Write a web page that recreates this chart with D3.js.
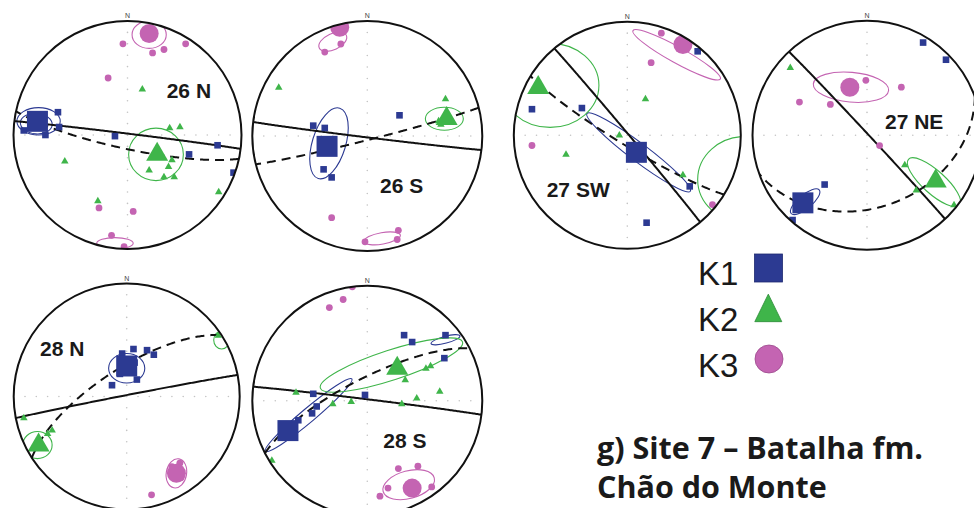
<!DOCTYPE html>
<html><head><meta charset="utf-8">
<script src="https://cdn.jsdelivr.net/npm/d3@7"></script>
<style>body{margin:0;background:#fff;overflow:hidden}</style>
</head><body><svg id="c" width="974" height="508"></svg>
<script>
// ---------- DATA (equal-area lower-hemisphere projected coords, unit radius; x = east, y = north) ----------
const siteLabels = ["26 N", "26 S", "27 SW", "27 NE", "28 N", "28 S"];
const legendLabels = ["K1", "K2", "K3"];
const titleLines = ["g) Site 7 \u2013 Batalha fm.", "Ch\u00e3o do Monte"];

const k1Means = [[-0.79, 0.12], [-0.35, -0.09], [0.08, -0.15], [-0.56, -0.59], [0.0, 0.27], [-0.69, -0.26]];
const k2Means = [[0.26, -0.17], [0.69, 0.15], [-0.785, 0.42], [0.60, -0.40], [-0.78, -0.43], [0.26, 0.28]];
const k3Means = [[0.19, 0.89], [-0.24, 0.945], [0.49, 0.80], [-0.15, 0.42], [0.44, -0.68], [0.39, -0.76]];

const k1Specimens = [
  [[-0.61, 0.20], [-0.91, 0.04], [-0.60, 0.07], [-0.72, 0.0], [-0.11, -0.01], [0.54, -0.17], [0.79, -0.09], [0.93, -0.33]],
  [[-0.47, 0.09], [-0.37, 0.07], [-0.38, -0.29], [-0.31, -0.36], [0.28, 0.18]],
  [[-0.84, 0.23], [-0.40, 0.24], [0.62, 0.74], [0.55, -0.45], [0.17, -0.77]],
  [[-0.37, -0.43], [-0.65, -0.74], [0.49, 0.81], [0.69, 0.66]],
  [[0.06, 0.42], [0.18, 0.41], [0.24, 0.37], [-0.13, 0.10], [0.09, 0.15], [-0.04, 0.38], [0.07, 0.30], [-0.06, 0.20]],
  [[-0.47, 0.06], [-0.48, -0.11], [-0.44, -0.05], [-0.02, 0.05], [0.32, 0.57], [0.39, 0.51], [0.68, 0.57], [0.67, 0.37], [-0.60, -0.17]]
];
const k2Specimens = [
  [[0.13, 0.40], [0.37, 0.06], [0.46, 0.07], [0.39, -0.22], [0.36, -0.28], [0.19, -0.31], [0.32, -0.37], [0.41, -0.37], [-0.55, -0.23], [0.80, -0.50], [-0.26, -0.58]],
  [[0.68, 0.32], [-0.77, 0.42], [0.64, 0.10], [0.73, 0.12], [0.62, 0.13]],
  [[0.16, 0.32], [-0.07, 0.0], [-0.54, -0.17], [0.49, -0.35]],
  [[-0.67, 0.59], [0.33, -0.26], [0.43, -0.48], [0.76, -0.61]],
  [[-0.91, -0.19], [-0.66, -0.30], [-0.70, -0.33], [0.81, 0.54]],
  [[-0.62, 0.07], [-0.30, -0.03], [-0.14, -0.01], [0.30, -0.03], [0.43, 0.02], [0.63, 0.08], [0.51, 0.28], [0.33, 0.18], [0.55, 0.30], [-0.83, -0.52]]
];
const k3Specimens = [
  [[-0.04, 0.80], [0.22, 0.72], [0.32, 0.75], [0.51, 0.80], [-0.17, 0.50], [-0.25, -0.64], [0.05, -0.67], [-0.14, -0.88], [-0.03, -0.98]],
  [[-0.37, 0.73], [-0.23, 0.80], [-0.31, -0.71], [0.27, -0.82], [0.26, -0.90], [-0.02, -0.92]],
  [[0.30, 0.90], [0.21, 0.64], [-0.84, -0.09], [0.75, -0.61]],
  [[-0.01, 0.48], [0.30, 0.42], [-0.59, 0.29], [-0.32, 0.27], [0.11, -0.09]],
  [[0.47, -0.59], [0.40, -0.62], [0.48, -0.72], [0.22, -0.87]],
  [[-0.13, 0.99], [-0.21, 0.88], [-0.33, 0.81], [0.27, -0.59], [0.44, -0.57], [0.11, -0.83], [0.18, -0.76], [0.56, -0.75]]
];

// confidence ellipses: [centre x, centre y, semi-axis x, semi-axis y, rotation deg]
const k1Ellipses = [
  [[-0.78, 0.12, 0.19, 0.12, 0], [-0.80, 0.10, 0.14, 0.09, 5]],
  [[-0.333, -0.064, 0.145, 0.32, 17]],
  [[0.10, -0.15, 0.57, 0.08, 37]],
  [[-0.54, -0.58, 0.16, 0.06, -40]],
  [[0.0, 0.25, 0.16, 0.13, 0]],
  [[-0.51, -0.125, 0.49, 0.06, -40], [0.68, 0.53, 0.13, 0.03, -15]]
];
const k2Ellipses = [
  [[0.25, -0.17, 0.24, 0.23, 0]],
  [[0.67, 0.15, 0.165, 0.10, 0]],
  [[-0.68, 0.44, 0.43, 0.37, 0], [1.04, -0.39, 0.42, 0.38, 0]],
  [[0.585, -0.41, 0.30, 0.10, 42]],
  [[-0.79, -0.43, 0.13, 0.12, 0], [0.84, 0.50, 0.07, 0.08, 0]],
  [[0.21, 0.31, 0.65, 0.13, -18]]
];
const k3Ellipses = [
  [[0.19, 0.88, 0.15, 0.12, 0], [-0.11, -0.95, 0.16, 0.05, 0]],
  [[-0.30, 0.82, 0.13, 0.07, -25], [0.13, -0.89, 0.16, 0.05, -10]],
  [[0.435, 0.709, 0.44, 0.07, 29], [-0.80, -0.82, 0.25, 0.06, 40]],
  [[-0.14, 0.42, 0.33, 0.13, 5]],
  [[0.44, -0.68, 0.09, 0.13, 10]],
  [[0.36, -0.73, 0.23, 0.12, -15]]
];

// bedding planes: [dip direction, dip] (degrees)
const beddingPlanes = [[7, 89], [187, 89], [50, 89], [47, 89], [349, 89], [7, 89]];

// ---------- LAYOUT ----------
const layout = [
  {cx: 127.5, cy: 135.0, r: 114.0, lx: 166.7, ly: 97.7},
  {cx: 367.3, cy: 136.0, r: 115.0, lx: 380.0, ly: 193.3},
  {cx: 627.3, cy: 135.3, r: 113.5, lx: 546.7, ly: 197.3},
  {cx: 867.0, cy: 135.3, r: 114.5, lx: 885.0, ly: 129.0},
  {cx: 126.7, cy: 396.5, r: 113.0, lx: 40.0, ly: 355.7},
  {cx: 367.3, cy: 400.7, r: 115.0, lx: 383.3, ly: 448.3}
];
const colK1 = "#2c3a92", colK2 = "#3fb54a", colK3 = "#c464b2";
const sansFont = "'Liberation Sans', Arial, sans-serif";

// ---------- MATH ----------
function toVec([x, y]) {
  const r = Math.hypot(x, y);
  if (r < 1e-9) return [0, 0, 1];
  const th = 2 * Math.asin(Math.min(1, r / Math.SQRT2));
  const s = Math.sin(th);
  return [s * x / r, s * y / r, Math.cos(th)];
}
function toProj([e, n, d]) {
  if (d < 0) { e = -e; n = -n; d = -d; }
  const h = Math.hypot(e, n);
  if (h < 1e-12) return [0, 0];
  const th = Math.acos(Math.min(1, d / Math.hypot(e, n, d)));
  const r = Math.SQRT2 * Math.sin(th / 2);
  return [r * e / h, r * n / h];
}
function poleFromPlane(dipDir, dip) {
  const tr = (dipDir + 180) * Math.PI / 180, pl = (90 - dip) * Math.PI / 180;
  return [Math.cos(pl) * Math.sin(tr), Math.cos(pl) * Math.cos(tr), Math.sin(pl)];
}
function greatCircle(n) {
  const h = Math.hypot(n[0], n[1]);
  const s = [n[1] / h, -n[0] / h, 0];
  let d = [n[1] * s[2] - n[2] * s[1], n[2] * s[0] - n[0] * s[2], n[0] * s[1] - n[1] * s[0]];
  if (d[2] < 0) d = d.map(v => -v);
  const pts = [];
  for (let a = 0; a <= 180; a += 1) {
    const t = a * Math.PI / 180, c = Math.cos(t), si = Math.sin(t);
    pts.push(toProj([c * s[0] + si * d[0], c * s[1] + si * d[1], c * s[2] + si * d[2]]));
  }
  return pts;
}

// ---------- DRAW ----------
const svg = d3.select("#c");
const defs = svg.append("defs");

function triPath(cx, cy, w, h) {
  if (h === undefined) h = w * Math.sqrt(3) / 2;
  return `M${cx},${cy - h * 2 / 3}L${cx + w / 2},${cy + h / 3}L${cx - w / 2},${cy + h / 3}Z`;
}

layout.forEach((L, i) => {
  const x = d3.scaleLinear().domain([-1, 1]).range([L.cx - L.r, L.cx + L.r]);
  const y = d3.scaleLinear().domain([-1, 1]).range([L.cy + L.r, L.cy - L.r]);
  const kx = v => x(v) - x(0), ky = v => y(0) - y(v);
  const line = d3.line().x(d => x(d[0])).y(d => y(d[1]));

  defs.append("clipPath").attr("id", "clip" + i)
    .append("circle").attr("cx", L.cx).attr("cy", L.cy).attr("r", L.r);

  const g = svg.append("g");
  const inner = g.append("g").attr("clip-path", `url(#clip${i})`);

  // axis tick dots
  const ticks = d3.range(-9, 10).map(k => k / 10);
  inner.selectAll("circle.tx").data(ticks).join("circle")
    .attr("cx", d => x(d)).attr("cy", y(0)).attr("r", 0.8).attr("fill", "#c4c4c4");
  inner.selectAll("circle.ty").data(ticks).join("circle")
    .attr("cx", x(0)).attr("cy", d => y(d)).attr("r", 0.8).attr("fill", "#c4c4c4");

  // ellipses
  const drawEll = (arr, col) => {
    inner.append("g").selectAll("ellipse").data(arr).join("ellipse")
      .attr("cx", 0).attr("cy", 0)
      .attr("rx", d => kx(d[2])).attr("ry", d => ky(d[3]))
      .attr("transform", d => `translate(${x(d[0])},${y(d[1])}) rotate(${d[4]})`)
      .attr("fill", "none").attr("stroke", col).attr("stroke-width", 1.1);
  };
  drawEll(k1Ellipses[i], colK1);
  drawEll(k2Ellipses[i], colK2);
  drawEll(k3Ellipses[i], colK3);

  // planes
  inner.append("path").attr("d", line(greatCircle(poleFromPlane(...beddingPlanes[i]))))
    .attr("fill", "none").attr("stroke", "#111").attr("stroke-width", 2);
  inner.append("path").attr("d", line(greatCircle(toVec(k3Means[i]))))
    .attr("fill", "none").attr("stroke", "#111").attr("stroke-width", 2)
    .attr("stroke-dasharray", "9,6");

  // specimens
  inner.append("g").selectAll("circle").data(k3Specimens[i]).join("circle")
    .attr("cx", d => x(d[0])).attr("cy", d => y(d[1])).attr("r", 3.4).attr("fill", colK3);
  inner.append("g").selectAll("rect").data(k1Specimens[i]).join("rect")
    .attr("x", d => x(d[0]) - 3.3).attr("y", d => y(d[1]) - 3.3).attr("width", 6.6).attr("height", 6.6).attr("fill", colK1);
  inner.append("g").selectAll("path").data(k2Specimens[i]).join("path")
    .attr("d", d => triPath(x(d[0]), y(d[1]), 7.5)).attr("fill", colK2);

  // means
  inner.append("circle").datum(k3Means[i]).attr("cx", d => x(d[0])).attr("cy", d => y(d[1])).attr("r", 9.5).attr("fill", colK3);
  inner.append("rect").datum(k1Means[i]).attr("x", d => x(d[0]) - 10.5).attr("y", d => y(d[1]) - 10.5)
    .attr("width", 21).attr("height", 21).attr("fill", colK1);
  inner.append("path").datum(k2Means[i]).attr("d", d => triPath(x(d[0]), y(d[1]), 22)).attr("fill", colK2);

  // primitive
  g.append("circle").attr("cx", L.cx).attr("cy", L.cy).attr("r", L.r)
    .attr("fill", "none").attr("stroke", "#111").attr("stroke-width", 2);
  g.append("text").attr("x", x(0)).attr("y", y(1) - 3).attr("text-anchor", "middle")
    .attr("font-family", sansFont).attr("font-size", 7).attr("fill", "#444").text("N");
  g.append("text").attr("x", L.lx).attr("y", L.ly)
    .attr("font-family", sansFont).attr("font-weight", "bold")
    .attr("font-size", 21).attr("fill", "#1a1a1a").text(siteLabels[i]);
});

// legend
const leg = svg.append("g");
const legY = d3.scaleBand().domain(legendLabels).range([250, 388]);
leg.selectAll("text").data(legendLabels).join("text")
  .attr("x", 698).attr("y", d => legY(d) + 35)
  .attr("font-family", sansFont).attr("font-size", 33).attr("fill", "#1a1a1a")
  .text(d => d);
leg.append("rect").attr("x", 754.5).attr("y", legY("K1") + 4).attr("width", 28).attr("height", 28)
  .attr("fill", colK1).attr("stroke", "#1f2a70").attr("stroke-width", 0.8);
leg.append("path").attr("d", triPath(768.3, legY("K2") + 16.5, 27, 27.5))
  .attr("fill", colK2).attr("stroke", "#2a8a35").attr("stroke-width", 0.8);
leg.append("circle").attr("cx", 769).attr("cy", legY("K3") + 17).attr("r", 14)
  .attr("fill", colK3).attr("stroke", "#9a4a8c").attr("stroke-width", 0.8);

// title
svg.append("g").selectAll("text").data(titleLines).join("text")
  .attr("x", 597).attr("y", (d, k) => 459 + k * 38.5)
  .attr("font-family", "'Open Sans', Lato, sans-serif").attr("font-weight", "bold")
  .attr("font-size", 30.5).attr("fill", "#1a1a1a").text(d => d);
</script>
</body></html>
